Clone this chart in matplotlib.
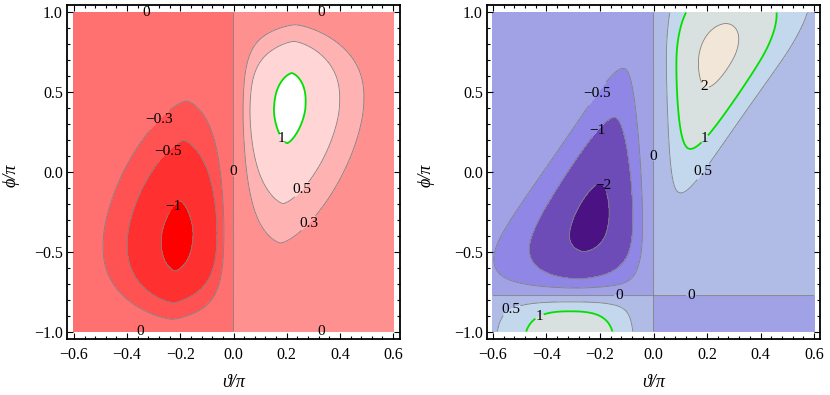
import numpy as np
import matplotlib
matplotlib.use("Agg")
import matplotlib.pyplot as plt
from matplotlib.ticker import MultipleLocator

plt.rcParams['font.family'] = ['Liberation Serif', 'DejaVu Serif']

# contour levels and band colours
left_levels = [-1, -0.5, -0.3, 0, 0.3, 0.5, 1]
left_colors = ['#ff0000', '#ff3030', '#ff5252', '#ff7070', '#ff9090', '#ffb2b2', '#ffd5d5', '#ffffff']
right_levels = [-2, -1, -0.5, 0, 0.5, 1, 2]
right_colors = ['#4b1283', '#6e4cb8', '#8f86e6', '#a1a2e6', '#b0bbe6', '#c3d8ec', '#d9e0e0', '#f1e6d8']

x_ticks = [-0.6, -0.4, -0.2, 0.0, 0.2, 0.4, 0.6]
x_ticklabels = ['\u22120.6', '\u22120.4', '\u22120.2', '0.0', '0.2', '0.4', '0.6']
y_ticks = [-1.0, -0.5, 0.0, 0.5, 1.0]
y_ticklabels = ['\u22121.0', '\u22120.5', '0.0', '0.5', '1.0']

# field: background level and lobes
# lobe = amp, x0, y0, sx, px, sy_dn, py_dn, sy_up, py_up, tilt, taper
left_base = 0.15
left_lobe = [1.05, -0.21, -0.40, 0.176, 1.45, 0.404, 2.57, 0.566, 1.65, 0.04, 0.0]

right_base = 0.25
right_zero_phi = -0.775
right_lobe_tl = [2.1, -0.23, -0.30, 0.195, 1.7, 0.376, 2.7, 0.66, 1.7, 0.14, 0.75]
right_lobe_tr = [2.1, 0.235, 0.74, 0.175, 1.9, 0.62, 1.65, 0.45, 2.0, 0.18, -0.8]
right_lobe_bl = [1.2, -0.31, -1.05, 0.23, 2.5, 0.29, 2.0, 0.29, 2.0, 0.0, 0.0]

# contour label spots
left_label_pos = [(-0.28, 0.33), (-0.26, 0.15), (-0.21, -0.235), (-0.006, 0.0),
                  (0.19, 0.22), (0.27, -0.13), (0.30, -0.35)]
left_edge_zeros = [(-0.33, 1.0), (0.33, 1.0), (-0.35, -1.0), (0.33, -1.0)]
right_label_pos = [(-0.234, 0.52), (-0.22, 0.28), (0.006, 0.10), (-0.19, -0.09),
                   (0.196, 0.55), (0.19, 0.21), (0.245, -0.07), (-0.13, -0.775),
                   (0.14, -0.775), (-0.52, -0.90), (-0.42, -0.925)]


def lobe(X, Y, p):
    amp, x0, y0, sx, px, sy_dn, py_dn, sy_up, py_up, tilt, taper = p
    dy = Y - y0
    xc = x0 + tilt * dy
    sxe = sx * np.exp(-taper * dy)
    u = np.abs(X - xc) / sxe
    v = np.where(dy > 0, (np.abs(dy) / sy_up) ** py_up, (np.abs(dy) / sy_dn) ** py_dn)
    return amp * np.exp(-(u ** px + v))


x = np.linspace(-0.6, 0.6, 480)
y = np.linspace(-1.0, 1.0, 720)
X, Y = np.meshgrid(x, y)

# left: antisymmetric field, zero on theta = 0
mag_l = left_base + np.where(X < 0, lobe(X, Y, left_lobe), lobe(-X, -Y, left_lobe))
F_left = np.tanh(X / 0.058) * mag_l

# right: zero on theta = 0 and on phi = -0.775
mag_r = right_base + np.where(Y > right_zero_phi,
                              np.where(X < 0, lobe(X, Y, right_lobe_tl), lobe(X, Y, right_lobe_tr)),
                              np.where(X < 0, lobe(X, Y, right_lobe_bl), 0.0))
F_right = np.tanh(X / 0.08) * np.tanh((Y - right_zero_phi) / 0.06) * mag_r


def fmt(v):
    return ('%g' % v).replace('-', '\u2212')


fig = plt.figure(figsize=(8.3, 3.95), dpi=100)
ax1 = fig.add_axes([67 / 830, 1 - 339 / 395, 333 / 830, 334 / 395])
ax2 = fig.add_axes([487 / 830, 1 - 339 / 395, 333 / 830, 334 / 395])

panels = [
    (ax1, F_left, left_levels, left_colors, left_label_pos, 0.026),
    (ax2, F_right, right_levels, right_colors, right_label_pos, 0.022),
]
for ax, F, levels, colors, label_pos, xpad in panels:
    ax.contourf(X, Y, F, levels=[-50] + levels + [50], colors=colors)
    lc = ['#00e000' if lv == 1 else '#808080' for lv in levels]
    lw = [1.3 if lv == 1 else 0.6 for lv in levels]
    cs = ax.contour(X, Y, F, levels=levels, colors=lc, linewidths=lw)
    ax.clabel(cs, levels, inline=True, fmt=fmt, fontsize=11, manual=label_pos, inline_spacing=1)
    for t in cs.labelTexts:
        t.set_rotation(0)
        t.set_color('black')

    ax.set_xlim(-0.6 - xpad, 0.6 + xpad)
    ax.set_ylim(-1.047, 1.047)
    ax.set_xticks(x_ticks)
    ax.set_xticklabels(x_ticklabels)
    ax.set_yticks(y_ticks)
    ax.set_yticklabels(y_ticklabels)
    ax.xaxis.set_minor_locator(MultipleLocator(0.04))
    ax.yaxis.set_minor_locator(MultipleLocator(0.1))
    ax.tick_params(which='both', direction='in', top=True, right=True, labelsize=11.5, width=0.8)
    ax.tick_params(axis='x', which='major', pad=6)
    ax.tick_params(axis='y', which='major', pad=3)
    ax.tick_params(which='major', length=4.5)
    ax.tick_params(which='minor', length=2.3)
    for s in ax.spines.values():
        s.set_linewidth(1.3)
    ax.set_xlabel('\u03d1/\u03c0', fontsize=13, style='italic')
    ax.set_ylabel('\u03d5/\u03c0', fontsize=13, style='italic')

for (px, py) in left_edge_zeros:
    ax1.text(px, py, '0', fontsize=11, ha='center', va='center')

ax1.xaxis.set_label_coords(0.5, -0.105)
ax2.xaxis.set_label_coords(0.5, -0.105)
ax1.yaxis.set_label_coords(-0.141, 0.49)
ax2.yaxis.set_label_coords(-0.156, 0.49)

fig.savefig('out.png', dpi=100)
